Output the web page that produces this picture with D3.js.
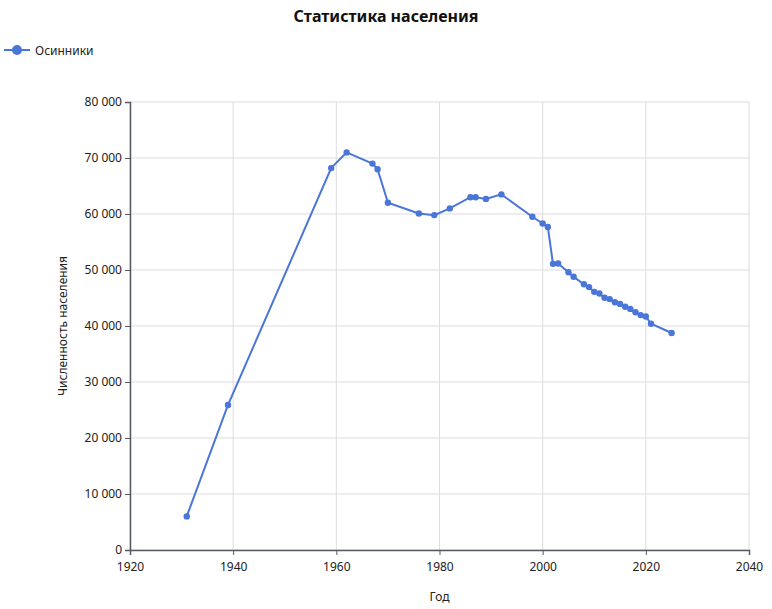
<!DOCTYPE html>
<html><head><meta charset="utf-8">
<script src="https://cdn.jsdelivr.net/npm/d3@7/dist/d3.min.js"></script>
<style>body{margin:0;background:#fff;font-family:"Noto Sans",sans-serif;}</style>
</head><body>
<svg id="c" width="772" height="609"></svg>
<script>
const title = "Статистика населения";
const seriesName = "Осинники";
const xLabel = "Год";
const yLabel = "Численность населения";
const years = [1931,1939,1959,1962,1967,1968,1970,1976,1979,1982,1986,1987,1989,1992,1998,2000,2001,2002,2003,2005,2006,2008,2009,2010,2011,2012,2013,2014,2015,2016,2017,2018,2019,2020,2021,2025];
const population = [6000,25900,68200,71000,69000,68000,62000,60100,59800,61000,63000,63000,62700,63500,59500,58300,57700,51100,51150,49600,48800,47450,46950,46100,45800,45050,44800,44250,43950,43450,43050,42450,41950,41700,40400,38750];
const xTicks = [1920,1940,1960,1980,2000,2020,2040];
const yTicks = [0,10000,20000,30000,40000,50000,60000,70000,80000];
const color = "#4a76d8";

const svg = d3.select("#c");
const m = {l:130, r:772-749, t:102, b:609-550};
const W = 772, H = 609;
const x = d3.scaleLinear().domain([1920,2040]).range([m.l, W-m.r]);
const y = d3.scaleLinear().domain([0,80000]).range([H-m.b, m.t]);
const fmt = v => d3.format(",")(v).replace(/,/g, " ");

// grid
svg.append("g").selectAll("line").data(xTicks).join("line")
  .attr("x1", d=>x(d)).attr("x2", d=>x(d)).attr("y1", m.t).attr("y2", H-m.b)
  .attr("stroke", "#dcdce2").attr("stroke-width", 1);
svg.append("g").selectAll("line").data(yTicks).join("line")
  .attr("x1", m.l).attr("x2", W-m.r).attr("y1", d=>y(d)).attr("y2", d=>y(d))
  .attr("stroke", "#dcdce2").attr("stroke-width", 1);

const xa = svg.append("g").attr("transform", `translate(0,${H-m.b})`)
  .call(d3.axisBottom(x).tickValues(xTicks).tickFormat(d3.format("d")).tickSizeOuter(0).tickSize(5));
const ya = svg.append("g").attr("transform", `translate(${m.l},0)`)
  .call(d3.axisLeft(y).tickValues(yTicks).tickFormat(fmt).tickSizeOuter(0).tickSize(5));
[xa, ya].forEach(a => {
  a.select(".domain").attr("stroke", "#555a60").attr("stroke-width", 1.5);
  a.selectAll(".tick line").attr("stroke", "#555a60");
  a.selectAll("text").attr("fill", "#222").style("font-size", "12px").style("font-family", '"Noto Sans",sans-serif');
});
xa.selectAll("text").attr("dy", "1.05em");

// line
const data = years.map((d,i)=>({yr:d, v:population[i]}));
svg.append("path").datum(data)
  .attr("d", d3.line().x(d=>x(d.yr)).y(d=>y(d.v)))
  .attr("fill", "none").attr("stroke", color).attr("stroke-width", 2);
svg.append("g").selectAll("circle").data(data).join("circle")
  .attr("cx", d=>x(d.yr)).attr("cy", d=>y(d.v)).attr("r", 3.2).attr("fill", color);

// title
svg.append("text").attr("x", 386).attr("y", 22).attr("text-anchor", "middle")
  .style("font-size", "16px").style("font-weight", "bold").attr("fill", "#111").text(title);

// legend
svg.append("line").attr("x1", 4).attr("x2", 30).attr("y1", 50).attr("y2", 50).attr("stroke", color).attr("stroke-width", 2);
svg.append("circle").attr("cx", 17).attr("cy", 50).attr("r", 5).attr("fill", color);
svg.append("text").attr("x", 35).attr("y", 54.5).style("font-size", "12px").attr("fill", "#222").text(seriesName);

// axis labels
svg.append("text").attr("x", (m.l + W - m.r)/2).attr("y", 601).attr("text-anchor", "middle")
  .style("font-size", "12px").attr("fill", "#222").text(xLabel);
svg.append("text").attr("transform", `translate(67,${(m.t + H - m.b)/2}) rotate(-90)`).attr("text-anchor", "middle")
  .style("font-size", "12px").attr("fill", "#222").text(yLabel);
</script>
</body></html>
